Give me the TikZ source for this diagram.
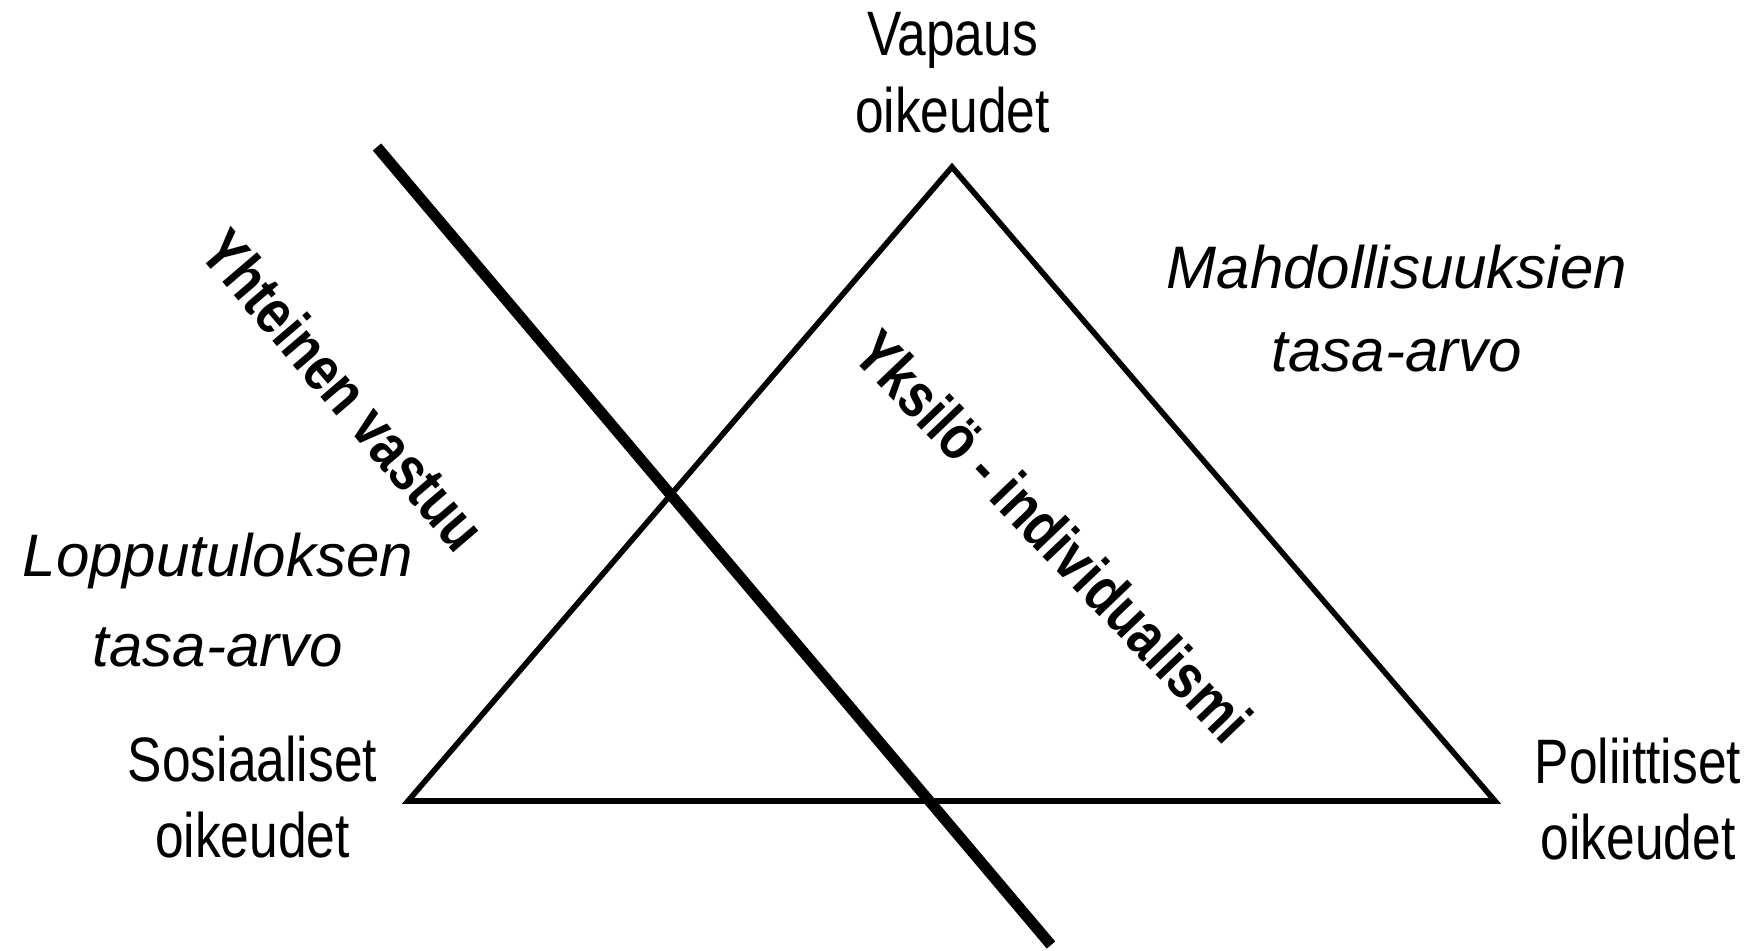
\documentclass[tikz,border=0pt]{standalone}
\usepackage{fontspec}
\setmainfont{Liberation Sans}[FakeStretch=0.82]
\newfontfamily\vinofont{Liberation Sans}

\begin{document}
\begin{tikzpicture}[x=0.5pt, y=-0.5pt,
    oikeus/.style={align=center, inner sep=0pt, font=\fontsize{31.4}{38.35}\selectfont},
    tasa/.style={align=center, inner sep=0pt, font=\vinofont\itshape\fontsize{30}{41.7}\selectfont},
    vastuu/.style={inner sep=0pt, font=\bfseries\fontsize{31.4}{38}\selectfont}]

    % --- Picture frame ---
    \useasboundingbox (0,0) rectangle (1753,950);

    % --- Coordinates ---
    % Triangle corners: top (freedom), left (social), right (political)
    \coordinate (A) at (952,167);
    \coordinate (S) at (408,801);
    \coordinate (P) at (1495,801);
    % End points of the thick dividing line
    \coordinate (V1) at (377,147);
    \coordinate (V2) at (1051,945);

    % --- Triangle ---
    \draw[line width=2.8pt] (A) -- (P) -- (S) -- cycle;

    % --- Dividing line ---
    \draw[line width=5.5pt] (V1) -- (V2);

    % --- Corner labels ---
    \node[oikeus] (vapaus) at (952.5,72.6) {Vapaus\\oikeudet};
    \node[oikeus] (sosiaaliset) at (252.5,797) {Sosiaaliset\\oikeudet};
    \node[oikeus] (poliittiset) at (1638,799) {Poliittiset\\oikeudet};

    % --- Equality labels (italic) ---
    \node[tasa] (mahdollisuus) at (1397,308.5) {Mahdollisuuksien\\tasa-arvo};
    \node[tasa] (lopputulos) at (218,600) {Lopputuloksen\\[3.3pt]tasa-arvo};

    % --- Slanted labels along the lines ---
    \node[vastuu, rotate=-49.5] (yhteinen) at (344,390) {Yhteinen vastuu};
    \node[vastuu, rotate=-46.3] (yksilo) at (1054,536) {Yksilö - individualismi};

\end{tikzpicture}
\end{document}
